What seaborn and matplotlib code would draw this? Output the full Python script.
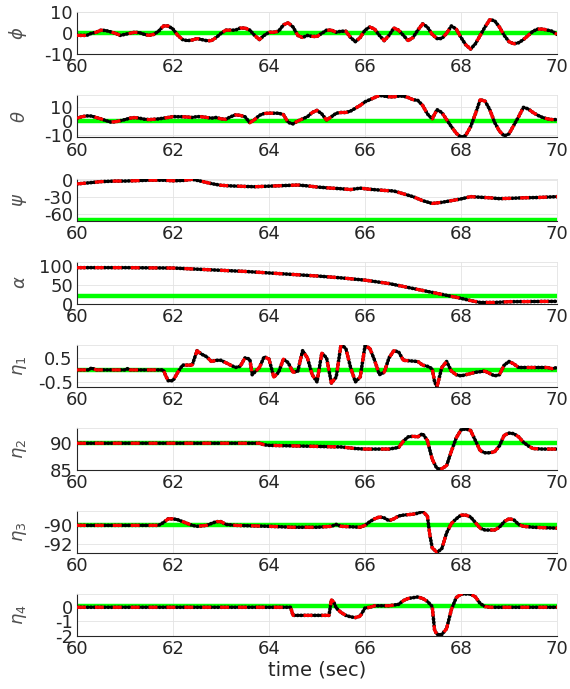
import numpy as np
import matplotlib
matplotlib.use("Agg")
import matplotlib.pyplot as plt
import seaborn as sns

# --------------------------------------------------------------
# Data
# --------------------------------------------------------------
t_grid = np.round(np.arange(60.0, 70.001, 0.1), 1)

phi_v = [-1, -1, -1, 0, 0.5, 1.5, 1.3, 0.7, 0, -1,
         -0.5, 0, 0.5, 0.3, -0.5, -1, -0.5, 1, 3.5, 3.5,
         2, -1, -3, -3.5, -3.2, -2.5, -3, -3.5, -3.5, -2,
         0, 1.5, 1.5, 1.5, 2.5, 2.5, 1.5, -1, -3, -1,
         0.5, 0.5, 1, 4, 5, 3, -1, -2, -1, -1.5,
         -1.5, 0, 1.5, 1.5, 0.5, 1, 1, -2, -4, -2,
         1.5, 3, 2, -1, -3.5, -1, 2.5, 1.5, -1, -3.5,
         -2, 1.5, 4.5, 3, -0.5, -2.5, -2.5, 0, 3.5, 2,
         -2, -5.5, -7.5, -5, -1, 3, 6.5, 6, 3, -1,
         -4, -5, -4.5, -3, -1, 1, 2, 2, 1.5, 1, -0.5]

theta_v = [2, 3, 3.6, 3.5, 2.5, 1.5, 0.3, -0.7, -0.5, 0.2,
           1, 2, 2.4, 2, 1.3, 1, 1.2, 1.5, 2, 2.5,
           3.1, 3, 3, 2.8, 2.5, 3.1, 3, 2.5, 2, 2.5,
           1.5, 1.2, 3, 4.3, 4, 3, -1.2, 1, 4, 5.3,
           5.5, 5.5, 5.5, 4.5, -1, -2, 0, 1.5, 3, 6,
           7.5, 5, 0.7, 3, 5.5, 6, 6, 7, 9, 11,
           13.5, 15, 16.5, 18, 17.5, 17, 17, 17.5, 17.5, 16.5,
           15, 14.5, 11, 5, 1.5, 8, 6, 1, -4, -8.5,
           -11.5, -10, -4, 5, 15, 14, 8, -1, -7, -10.5,
           -9, -3, 3, 9.6, 8.5, 6, 4, 2.5, 1.5, 1, 1]

psi_t = [60.0, 60.2, 60.5, 60.8, 61.0, 61.5, 61.8, 62.0, 62.2, 62.4,
         62.6, 62.8, 63.0, 63.2, 63.5, 63.7, 64.0, 64.3, 64.6, 64.8,
         65.0, 65.3, 65.5, 65.7, 65.9, 66.1, 66.4, 66.6, 66.8, 67.0,
         67.2, 67.4, 67.6, 67.8, 68.0, 68.2, 68.4, 68.6, 68.8, 69.0,
         69.3, 69.6, 70.0]
psi_v = [-6.5, -5, -2.5, -1.5, -1.5, 0, 0, -1, -0.5, 1.5,
         -2, -6, -9, -10, -11, -11.5, -10.5, -9.5, -8.5, -10,
         -12, -14, -15, -16.5, -14, -16, -18, -19, -24, -29,
         -36, -41, -39, -36, -33, -29, -30, -31, -32.5, -32,
         -31, -30.5, -29]

alpha_t = [60.0, 61.0, 62.0, 62.5, 63.0, 63.5, 64.0, 64.5, 65.0, 65.5,
           66.0, 66.5, 67.0, 67.5, 68.0, 68.2, 68.4, 68.7, 69.0, 70.0]
alpha_v = [95, 95, 94, 91, 88, 85, 81, 77, 73, 68,
           62, 53, 40, 27, 14, 8, 3, 3, 5, 6]

eta1_t = [60.0, 60.25, 60.3, 60.4, 61.0, 61.05, 61.1, 61.8, 61.85, 61.9,
          62.0, 62.1, 62.2, 62.4, 62.5, 62.6, 62.7, 62.8, 62.9, 63.0,
          63.1, 63.2, 63.3, 63.4, 63.5, 63.6, 63.65, 63.8, 63.9, 64.0,
          64.1, 64.2, 64.3, 64.4, 64.5, 64.6, 64.7, 64.8, 64.9, 65.0,
          65.1, 65.2, 65.3, 65.4, 65.5, 65.6, 65.7, 65.8, 65.9, 66.0,
          66.1, 66.2, 66.3, 66.4, 66.5, 66.6, 66.7, 66.8, 67.1, 67.2,
          67.3, 67.4, 67.45, 67.5, 67.6, 67.7, 67.8, 67.9, 68.0, 68.1,
          68.3, 68.5, 68.7, 68.8, 68.9, 69.0, 69.1, 69.2, 69.5, 69.8,
          69.9, 70.0]
eta1_v = [0, 0, 0.08, 0, 0, 0.05, 0, 0, -0.25, -0.45,
          -0.45, -0.1, 0.2, 0.2, 0.8, 0.65, 0.55, 0.35, 0.4, 0.4,
          0.3, 0.2, 0.1, 0.15, 0.5, 0.45, -0.2, 0.1, 0.55, 0.45,
          -0.3, -0.1, 0.45, 0.3, -0.1, -0.05, 0.8, 0.5, -0.2, -0.5,
          0.7, 0.5, -0.55, -0.3, 1.05, 0.9, 0.1, -0.5, -0.3, 1.0,
          0.9, 0.4, -0.2, -0.1, 0.5, 0.8, 0.75, 0.4, 0.35, 0.2,
          0.15, 0.05, -0.5, -0.7, 0.1, 0.35, -0.05, -0.2, -0.25, -0.2,
          -0.1, -0.05, -0.25, -0.2, 0.2, 0.35, 0.25, 0.1, 0.1, 0.1,
          0.05, 0.1]

eta2_t = [60.0, 63.8, 63.9, 64.0, 64.5, 65.0, 65.5, 65.8, 66.0, 66.5,
          66.7, 66.8, 66.9, 67.0, 67.1, 67.2, 67.3, 67.4, 67.5, 67.6,
          67.7, 67.8, 67.9, 68.0, 68.1, 68.2, 68.3, 68.4, 68.5, 68.6,
          68.7, 68.8, 68.9, 69.0, 69.1, 69.2, 69.3, 69.4, 69.5, 69.7,
          70.0]
eta2_v = [90, 90, 89.7, 89.6, 89.5, 89.4, 89.3, 89.0, 88.9, 88.9,
          89.2, 90.4, 91.2, 91.3, 91.2, 91.8, 90.5, 87, 85.2, 85.2,
          85.8, 88.5, 91, 92.5, 92.7, 92.4, 90.5, 88.6, 88.2, 88.2,
          88.4, 89.5, 91.5, 91.9, 91.8, 91.2, 90.2, 89.5, 89.0, 88.9,
          88.9]

eta3_t = [60.0, 61.7, 61.8, 61.9, 62.0, 62.1, 62.2, 62.4, 62.5, 62.7,
          62.9, 63.0, 63.1, 63.3, 64.0, 64.5, 65.0, 65.3, 65.4, 65.5,
          65.9, 66.0, 66.1, 66.2, 66.3, 66.4, 66.5, 66.6, 66.7, 66.8,
          67.0, 67.1, 67.2, 67.3, 67.35, 67.4, 67.5, 67.6, 67.7, 67.8,
          67.9, 68.0, 68.1, 68.2, 68.3, 68.4, 68.5, 68.7, 68.8, 68.9,
          69.0, 69.1, 69.2, 69.3, 69.5, 70.0]
eta3_v = [-90, -90, -89.7, -89.3, -89.3, -89.4, -89.6, -90.0, -90.1, -90.0,
          -89.6, -89.6, -89.9, -90.0, -90.1, -90.2, -90.2, -90.1, -89.9, -90.1,
          -90.2, -90.0, -89.6, -89.3, -89.1, -89.2, -89.5, -89.3, -89.0, -88.9,
          -88.8, -88.7, -88.5, -89.0, -91.0, -92.4, -92.9, -92.5, -90.8, -89.8,
          -89.3, -88.9, -88.9, -89.1, -89.7, -90.3, -90.5, -90.5, -90.2, -89.6,
          -89.3, -89.4, -89.9, -90.1, -90.2, -90.3]

eta4_t = [60.0, 64.45, 64.5, 65.25, 65.3, 65.35, 65.4, 65.5, 65.6, 65.7,
          65.8, 65.9, 66.0, 66.1, 66.2, 66.5, 66.7, 66.8, 66.9, 67.0,
          67.1, 67.2, 67.3, 67.4, 67.45, 67.5, 67.6, 67.7, 67.8, 67.9,
          68.0, 68.2, 68.3, 68.4, 68.5, 68.6, 70.0]
eta4_v = [-0.05, -0.05, -0.6, -0.6, 0.45, 0.3, -0.1, -0.4, -0.6, -0.7,
          -0.75, -0.65, -0.1, -0.05, 0.05, 0.05, 0.15, 0.4, 0.55, 0.6,
          0.65, 0.55, 0.35, 0.0, -1.6, -1.9, -1.9, -1.5, -0.2, 0.6,
          0.85, 0.85, 0.65, 0.2, 0.0, -0.05, -0.05]

# reference (green) values, y-limits and y-ticks per panel
labels = [r"$\phi$", r"$\theta$", r"$\psi$", r"$\alpha$",
          r"$\eta_1$", r"$\eta_2$", r"$\eta_3$", r"$\eta_4$"]
refs = [0, 0, -70, 20, 0, 90, -90, 0.05]
ylims = [(-10, 10), (-11.5, 18), (-71, 3), (0, 111),
         (-0.7, 1.05), (85, 92.9), (-92.95, -88.45), (-2, 0.85)]
yticks = [[-10, 0, 10], [-10, 0, 10], [-60, -30, 0], [0, 50, 100],
          [-0.5, 0.5], [85, 90], [-92, -90], [-2, -1, 0]]
series = [(t_grid, phi_v), (t_grid, theta_v), (psi_t, psi_v), (alpha_t, alpha_v),
          (eta1_t, eta1_v), (eta2_t, eta2_v), (eta3_t, eta3_v), (eta4_t, eta4_v)]
xticks = [60, 62, 64, 66, 68, 70]

# --------------------------------------------------------------
# Plot
# --------------------------------------------------------------
sns.set_style("white")
plt.rcParams["font.family"] = ["DejaVu Sans"]
plt.rcParams["axes.unicode_minus"] = False
plt.rcParams["mathtext.fontset"] = "dejavusans"

fig = plt.figure(figsize=(5.7, 6.89), dpi=100)
W, H = 570.0, 689.0
txt = "#262626"

for i, ((t, v), lab, ref, yl, yt) in enumerate(zip(series, labels, refs, ylims, yticks)):
    top = 12.3 + 83.1 * i
    ax = fig.add_axes([77 / W, 1 - (top + 42) / H, 480 / W, 42 / H])
    ax.axhline(ref, color="#00ff00", lw=3.2, zorder=2)
    # estimate: black dotted, measurement: red dashed on top
    sns.lineplot(x=t, y=v, ax=ax, color="black", lw=2.6, sort=False,
                 estimator=None, linestyle=(0, (0.2, 0.75)),
                 dash_capstyle="round", zorder=3)
    sns.lineplot(x=t, y=v, ax=ax, color="red", lw=2.3, sort=False,
                 estimator=None, linestyle=(0, (2.8, 2.8)), zorder=4)
    ax.set_xlim(60, 70)
    ax.set_ylim(*yl)
    ax.set_xticks(xticks)
    ax.set_yticks(yt)
    ax.set_yticklabels([f"{y:g}" for y in yt])
    ax.grid(True, color="#e3e3e3", lw=0.6)
    ax.set_axisbelow(True)
    for s in ["left", "bottom"]:
        ax.spines[s].set_color(txt)
        ax.spines[s].set_linewidth(0.8)
    for s in ["top", "right"]:
        ax.spines[s].set_color("#e3e3e3")
        ax.spines[s].set_linewidth(0.6)
    ax.tick_params(direction="in", length=3, width=0.7, color=txt,
                   labelsize=13, labelcolor=txt, pad=3)
    ax.set_ylabel(lab, fontsize=13, color="#505050")
    ax.yaxis.set_label_coords(-0.1, 0.5)
    ax.set_xlabel("")

ax.set_xlabel("time (sec)", fontsize=14, color=txt, labelpad=2)

plt.savefig("out.png", dpi=100)
